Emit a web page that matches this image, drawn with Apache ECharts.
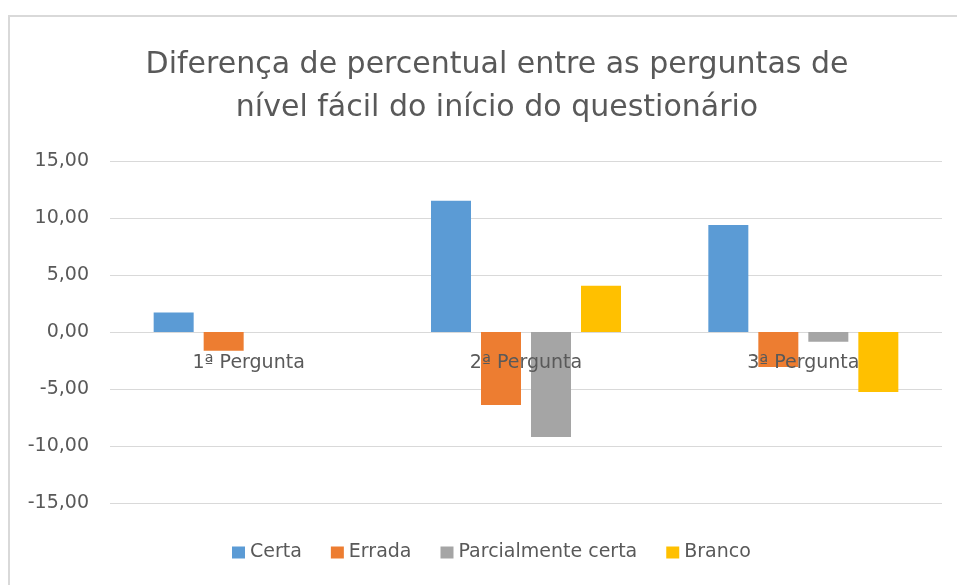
<!DOCTYPE html>
<html>
<head>
<meta charset="utf-8">
<script src="https://cdn.jsdelivr.net/npm/echarts@6/dist/echarts.min.js"></script>
<style>html,body{margin:0;padding:0;background:#fff;}#chart{width:957px;height:585px;}</style>
</head>
<body>
<div id="chart"></div>
<script>
const categories = ['1ª Pergunta', '2ª Pergunta', '3ª Pergunta'];
const certa = [1.72, 11.52, 9.39];
const errada = [-1.65, -6.40, -3.07];
const parcialmenteCerta = [0, -9.20, -0.86];
const branco = [0, 4.06, -5.26];
const seriesNames = ['Certa', 'Errada', 'Parcialmente certa', 'Branco'];
const seriesData = [certa, errada, parcialmenteCerta, branco];
const colors = ['#5B9BD5', '#ED7D31', '#A5A5A5', '#FFC000'];

const font = '"DejaVu Sans", sans-serif';
const chart = echarts.init(document.getElementById('chart'), null, {renderer: 'canvas'});
chart.setOption({
  backgroundColor: '#ffffff',
  animation: false,
  color: colors,
  title: {
    text: 'Diferença de percentual entre as perguntas de\nnível fácil do início do questionário',
    left: 492, top: 39, textAlign: 'center',
    textStyle: {color: '#595959', fontSize: 30, fontWeight: 'normal', fontFamily: font, lineHeight: 43}
  },
  graphic: [
    {type: 'line', shape: {x1: 8, y1: 16, x2: 957, y2: 16}, style: {stroke: '#d9d9d9', lineWidth: 2}},
    {type: 'line', shape: {x1: 9, y1: 15, x2: 9, y2: 585}, style: {stroke: '#d9d9d9', lineWidth: 2}}
  ],
  legend: {
    data: seriesNames,
    bottom: 18, left: 227,
    itemWidth: 13, itemHeight: 12, itemGap: 29,
    icon: 'rect',
    textStyle: {color: '#595959', fontSize: 19, fontFamily: font}
  },
  grid: {left: 110, right: 15, top: 161, bottom: 82, containLabel: false},
  xAxis: {
    type: 'category', data: categories,
    position: 'bottom', offset: -171, z: 10,
    axisLine: {show: false, onZero: false},
    axisTick: {show: false},
    axisLabel: {color: '#595959', fontSize: 19, fontFamily: font, margin: 22}
  },
  yAxis: {
    type: 'value', min: -15, max: 15, interval: 5,
    axisLine: {show: false}, axisTick: {show: false},
    splitLine: {lineStyle: {color: '#d9d9d9', width: 1}},
    axisLabel: {color: '#595959', fontSize: 19, fontFamily: font, margin: 21,
      formatter: v => v.toFixed(2).replace('.', ',')}
  },
  series: seriesNames.map((name, i) => ({
    name, type: 'bar', data: seriesData[i],
    barWidth: 40, barGap: '25%',
    itemStyle: {color: colors[i]}
  }))
});
</script>
</body>
</html>
